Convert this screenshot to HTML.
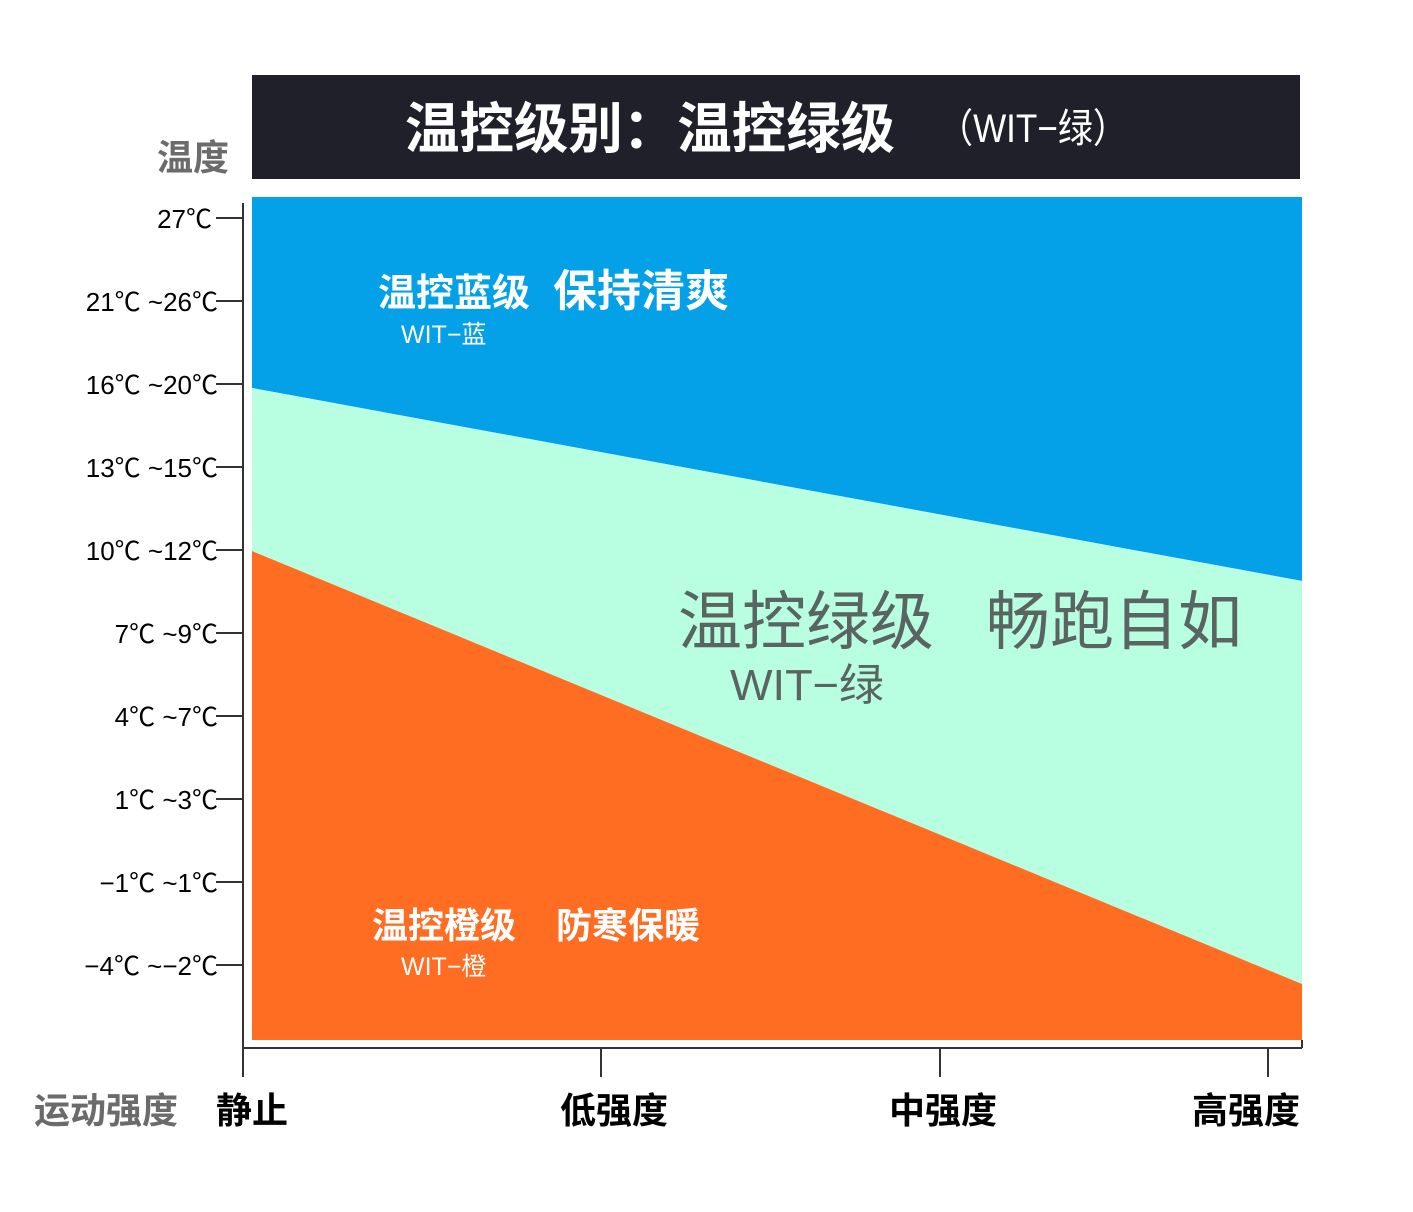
<!DOCTYPE html>
<html><head><meta charset="utf-8"><style>
body{margin:0;background:#fff;}
svg text{font-family:"Liberation Sans","Noto Sans CJK SC",sans-serif;}
</style></head><body>
<svg width="1413" height="1207" viewBox="0 0 1413 1207" xmlns="http://www.w3.org/2000/svg">
<rect x="0" y="0" width="1413" height="1207" fill="#fff"/>
<rect x="252" y="75" width="1048" height="104" fill="#1f2029"/>
<text x="405" y="148" font-size="55" font-weight="bold" fill="#fff" textLength="490" lengthAdjust="spacingAndGlyphs">温控级别：温控绿级</text>
<text x="938" y="142" font-size="40" fill="#fff" textLength="190" lengthAdjust="spacingAndGlyphs">（WIT−绿）</text>
<text x="157" y="170" font-size="36" font-weight="bold" fill="#6b6b6b">温度</text>
<polygon points="252,197 1302,197 1302,581 252,388" fill="#04a0e8"/>
<polygon points="252,388 1302,581 1302,984 252,551" fill="#b8ffe2"/>
<polygon points="252,551 1302,984 1302,1040 252,1040" fill="#ff6d22"/>
<g stroke="#333" stroke-width="2">
<line x1="243" y1="203" x2="243" y2="1077"/>
<line x1="243" y1="1048" x2="1302" y2="1048"/>
<line x1="601" y1="1048" x2="601" y2="1077"/>
<line x1="940" y1="1048" x2="940" y2="1077"/>
<line x1="1268" y1="1048" x2="1268" y2="1077"/>
<line x1="1302" y1="1048" x2="1302" y2="1040"/>
<line x1="216" y1="218" x2="243" y2="218"/>
<line x1="216" y1="301" x2="243" y2="301"/>
<line x1="216" y1="384" x2="243" y2="384"/>
<line x1="216" y1="467" x2="243" y2="467"/>
<line x1="216" y1="550" x2="243" y2="550"/>
<line x1="216" y1="633" x2="243" y2="633"/>
<line x1="216" y1="716" x2="243" y2="716"/>
<line x1="216" y1="799" x2="243" y2="799"/>
<line x1="216" y1="882" x2="243" y2="882"/>
<line x1="216" y1="965" x2="243" y2="965"/>
</g>
<g font-size="26" fill="#000" text-anchor="end">
<text x="212" y="228">27℃</text>
<text x="218" y="311">21℃ ~26℃</text>
<text x="218" y="394">16℃ ~20℃</text>
<text x="218" y="477">13℃ ~15℃</text>
<text x="218" y="560">10℃ ~12℃</text>
<text x="218" y="643">7℃ ~9℃</text>
<text x="218" y="726">4℃ ~7℃</text>
<text x="218" y="809">1℃ ~3℃</text>
<text x="218" y="892">−1℃ ~1℃</text>
<text x="218" y="975">−4℃ ~−2℃</text>
</g>
<text x="34" y="1123" font-size="36" font-weight="bold" fill="#6b6b6b">运动强度</text>
<g font-size="36" font-weight="bold" fill="#000">
<text x="216" y="1123">静止</text>
<text x="560" y="1123">低强度</text>
<text x="889" y="1123">中强度</text>
<text x="1192" y="1123">高强度</text>
</g>
<text x="378" y="306" font-size="38" font-weight="bold" fill="#fff">温控蓝级</text>
<text x="553" y="306" font-size="44" font-weight="bold" fill="#fff">保持清爽</text>
<text x="401" y="343" font-size="25" fill="#fff">WIT−蓝</text>
<text x="678" y="644" font-size="64" fill="#5a6460">温控绿级</text>
<text x="986" y="644" font-size="64" fill="#5a6460">畅跑自如</text>
<text x="730" y="700" font-size="44" fill="#5a6460" textLength="154" lengthAdjust="spacingAndGlyphs">WIT−绿</text>
<text x="372" y="938" font-size="36" font-weight="bold" fill="#fff">温控橙级</text>
<text x="556" y="938" font-size="36" font-weight="bold" fill="#fff">防寒保暖</text>
<text x="401" y="975" font-size="25" fill="#fff">WIT−橙</text>
</svg>
</body></html>
